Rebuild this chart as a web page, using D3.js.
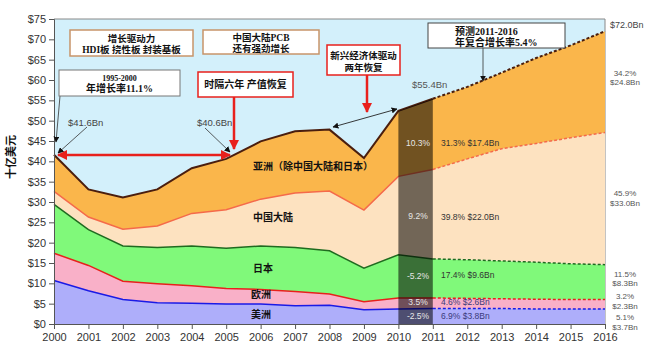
<!DOCTYPE html>
<html><head><meta charset="utf-8">
<script src="https://cdn.jsdelivr.net/npm/d3@7"></script>
<style>body{margin:0;background:#fff}svg{display:block}</style>
</head><body>
<svg id="c" width="650" height="356"></svg>
<script>
const years    = [2000,2001,2002,2003,2004,2005,2006,2007,2008,2009,2010,2011,2012,2013,2014,2015,2016];
const americas = [10.7,8.2,6.0,5.2,5.1,4.9,4.9,4.5,4.6,3.5,3.7,3.8,3.8,3.8,3.7,3.7,3.7];
const europe   = [6.7,6.2,4.5,4.7,4.3,3.8,3.6,3.5,2.8,2.0,2.7,2.6,2.5,2.4,2.4,2.3,2.3];
const japan    = [12.0,8.8,8.7,8.9,9.8,9.9,10.7,10.8,10.6,8.2,10.6,9.6,9.5,9.3,9.1,8.8,8.6];
const china    = [3.2,3.1,4.1,5.3,8.0,9.5,11.5,13.4,14.7,14.3,19.3,22.0,24.8,27.6,29.2,31.0,32.5];
const asiaOther= [9.0,6.8,7.8,9.0,11.1,12.5,14.2,15.2,15.1,12.8,16.1,17.4,17.7,18.7,21.0,22.7,24.9];
const yTicks   = [0,5,10,15,20,25,30,35,40,45,50,55,60,65,70,75];
const regionNames = ["美洲","欧洲","日本","中国大陆","亚洲（除中国大陆和日本）"];
const growth2010  = ["-2.5%","3.5%","-5.2%","9.2%","10.3%"];
const share2011   = ["6.9% $3.8Bn","4.6% $2.6Bn","17.4% $9.6Bn","39.8% $22.0Bn","31.3% $17.4Bn"];
const share2016   = [["5.1%","$3.7Bn"],["3.2%","$2.3Bn"],["11.5%","$8.3Bn"],["45.9%","$33.0Bn"],["34.2%","$24.8Bn"]];

const keys = ["am","eu","jp","cn","as"];
const table = years.map((yr,i)=>({year:yr, am:americas[i], eu:europe[i], jp:japan[i], cn:china[i], as:asiaOther[i]}));
const fills = ["#aeaefa","#f9b0c8","#80f97a","#fde2c0","#fab64b"];
const strokes = ["#1a1ae6","#e8201c","#1f6b1f","#f56a4a","#4a1e0e"];

const svg = d3.select("#c");
const x = d3.scaleLinear().domain([2000,2016]).range([54,605]);
const y = d3.scaleLinear().domain([0,75]).range([324,19]);
const font = "'Liberation Sans', Arial, sans-serif";
const cjk = "'Noto Sans CJK SC', sans-serif";
const boxFont = "'Liberation Serif', 'Noto Sans CJK SC', serif";

const defs = svg.append("defs");
function marker(id, color, size){
  defs.append("marker").attr("id",id).attr("viewBox","0 0 10 10").attr("refX",9).attr("refY",5)
    .attr("markerWidth",size).attr("markerHeight",size).attr("orient","auto-start-reverse")
    .attr("markerUnits","userSpaceOnUse")
    .append("path").attr("d","M0,0L10,5L0,10z").attr("fill",color);
}
marker("ar","#e8201c",10);
marker("ak","#111",6);

svg.append("rect").attr("x",x(2000)).attr("y",y(75)).attr("width",x(2016)-x(2000)).attr("height",y(0)-y(75)).attr("fill","#d3f0fb");
svg.append("line").attr("x1",x(2000)).attr("x2",x(2016)).attr("y1",y(75)).attr("y2",y(75)).attr("stroke","#888");
svg.append("line").attr("x1",x(2016)).attr("x2",x(2016)).attr("y1",y(75)).attr("y2",y(0)).attr("stroke","#888");

const series = d3.stack().keys(keys)(table);
const area = d3.area().x(d=>x(d.data.year)).y0(d=>y(d[0])).y1(d=>y(d[1]));
svg.append("g").selectAll("path").data(series).join("path").attr("d",area).attr("fill",(d,i)=>fills[i]);

const line = d3.line().x(d=>x(d.data.year)).y(d=>y(d[1]));
series.forEach((s,i)=>{
  const solid = s.filter(d=>d.data.year<=2011);
  const dash = s.filter(d=>d.data.year>=2011);
  svg.append("path").attr("d",line(solid)).attr("fill","none").attr("stroke",strokes[i]).attr("stroke-width",i==4?2:1.5);
  svg.append("path").attr("d",line(dash)).attr("fill","none").attr("stroke",strokes[i]).attr("stroke-width",i==4?2:1.5).attr("stroke-dasharray","3,2");
});

const bandPts = series[4].filter(d=>d.data.year>=2010 && d.data.year<=2011);
svg.append("path").attr("d",d3.area().x(d=>x(d.data.year)).y0(y(0)).y1(d=>y(d[1]))(bandPts)).attr("fill","#000").attr("opacity",0.55);

const ya = svg.append("g").attr("transform",`translate(${x(2000)},0)`).call(d3.axisLeft(y).tickValues(yTicks).tickSize(5).tickPadding(3).tickFormat(d=>"$"+d));
const xa = svg.append("g").attr("transform",`translate(0,${y(0)})`).call(d3.axisBottom(x).tickValues(years).tickSize(5).tickPadding(4).tickFormat(d3.format("d")));
[ya,xa].forEach(a=>{a.selectAll("text").attr("font-family",font).attr("font-size",11).attr("fill","#333");
  a.selectAll("line,path").attr("stroke","#555");});

svg.append("text").attr("transform","translate(12,157) rotate(-90)").attr("text-anchor","middle").attr("dominant-baseline","middle")
  .attr("font-family",cjk).attr("font-weight","bold").attr("font-size",11).attr("fill","#111").text("十亿美元");

const regionPos = [[251,315],[251,295],[253,269],[253,218],[253,167]];
regionNames.forEach((n,i)=>{
  svg.append("text").attr("x",regionPos[i][0]).attr("y",regionPos[i][1]).attr("dominant-baseline","middle")
    .attr("font-family",cjk).attr("font-weight","bold").attr("font-size",10).attr("fill","#111").text(n);
});

const bandY = [317,303,277,217,144];
growth2010.forEach((t,i)=>{
  svg.append("text").attr("x",418).attr("y",bandY[i]).attr("text-anchor","middle").attr("dominant-baseline","middle")
    .attr("font-family",font).attr("font-size",8.5).attr("fill","#e6e6e6").text(t);
});
const shareY = [317,303,276,218,144];
share2011.forEach((t,i)=>{
  svg.append("text").attr("x",441).attr("y",shareY[i]).attr("dominant-baseline","middle")
    .attr("font-family",font).attr("font-size",8.5).attr("fill", i<2?"#3a3a7a":"#333").text(t);
});
const rY = [[317,326.5],[296,306],[274,283],[193,203],[73,82]];
share2016.forEach((t,i)=>{
  const tx = svg.append("text").attr("text-anchor","middle").attr("font-family",font).attr("font-size",8).attr("fill","#555");
  t.forEach((s,j)=>tx.append("tspan").attr("x",625).attr("y",rY[i][j]+3).text(s));
});
svg.append("text").attr("x",610).attr("y",26).attr("dominant-baseline","middle").attr("font-family",font).attr("font-size",9).attr("fill","#444").text("$72.0Bn");
svg.append("text").attr("x",412).attr("y",85).attr("dominant-baseline","middle").attr("font-family",font).attr("font-size",9.5).attr("fill","#555").text("$55.4Bn");
svg.append("text").attr("x",68).attr("y",123).attr("dominant-baseline","middle").attr("font-family",font).attr("font-size",9.5).attr("fill","#444").text("$41.6Bn");
svg.append("text").attr("x",197).attr("y",123).attr("dominant-baseline","middle").attr("font-family",font).attr("font-size",9.5).attr("fill","#444").text("$40.6Bn");

function arrowLine(x1,y1,x2,y2,m,color,w,both){
  const l = svg.append("line").attr("x1",x1).attr("y1",y1).attr("x2",x2).attr("y2",y2).attr("stroke",color).attr("stroke-width",w).attr("marker-end",`url(#${m})`);
  if(both) l.attr("marker-start",`url(#${m})`);
}
arrowLine(87,127,58,153,"ak","#333",0.8);
arrowLine(205,128,230,152,"ak","#333",0.8);
arrowLine(60,96,56,142,"ak","#333",0.8);
arrowLine(483,48,483,81,"ak","#333",0.8);
arrowLine(333,127,397,109,"ak","#222",0.9,true);
arrowLine(58,155,230,155,"ar","#e8201c",2.5,true);
arrowLine(234,97,234,149,"ar","#e8201c",2.5);
arrowLine(367,75,367,112,"ar","#e8201c",2.5);

function box(x0,y0,w,h,color,sw,lines,anchor,tx){
  svg.append("rect").attr("x",x0).attr("y",y0).attr("width",w).attr("height",h).attr("fill","#fff").attr("stroke",color).attr("stroke-width",sw);
  const t = svg.append("text").attr("text-anchor",anchor||"middle")
      .attr("font-family",boxFont).attr("font-weight","bold").attr("fill","#111");
  lines.forEach(l=>{
    t.append("tspan").attr("x",tx!==undefined?tx:x0+w/2).attr("y",l.y).attr("font-size",l.size||9.5).text(l.t);
  });
}
box(70,30,123,26,"#c8946a",1.5,[{t:"增长驱动力",y:42},{t:"HDI板 挠性板 封装基板",y:53}]);
box(203,30,116,24,"#c8946a",1.5,[{t:"中国大陆PCB",y:41},{t:"还有强劲增长",y:51.5}]);
box(59,70,121,26,"#777",1,[{t:"1995-2000",y:80.5,size:8},{t:"年增长率11.1%",y:92,size:10}]);
box(198,72,95,25,"#e8201c",1.5,[{t:"时隔六年 产值恢复",y:88,size:10}]);
box(327,45,73,30,"#e8201c",1.5,[{t:"新兴经济体驱动",y:58.5},{t:"两年恢复",y:71}]);
box(428,23,137,25,"#444",1,[{t:"预测2011-2016",y:34.5,size:10},{t:"年复合增长率5.4%",y:45.5,size:10}],"start",455);
</script>
</body></html>
